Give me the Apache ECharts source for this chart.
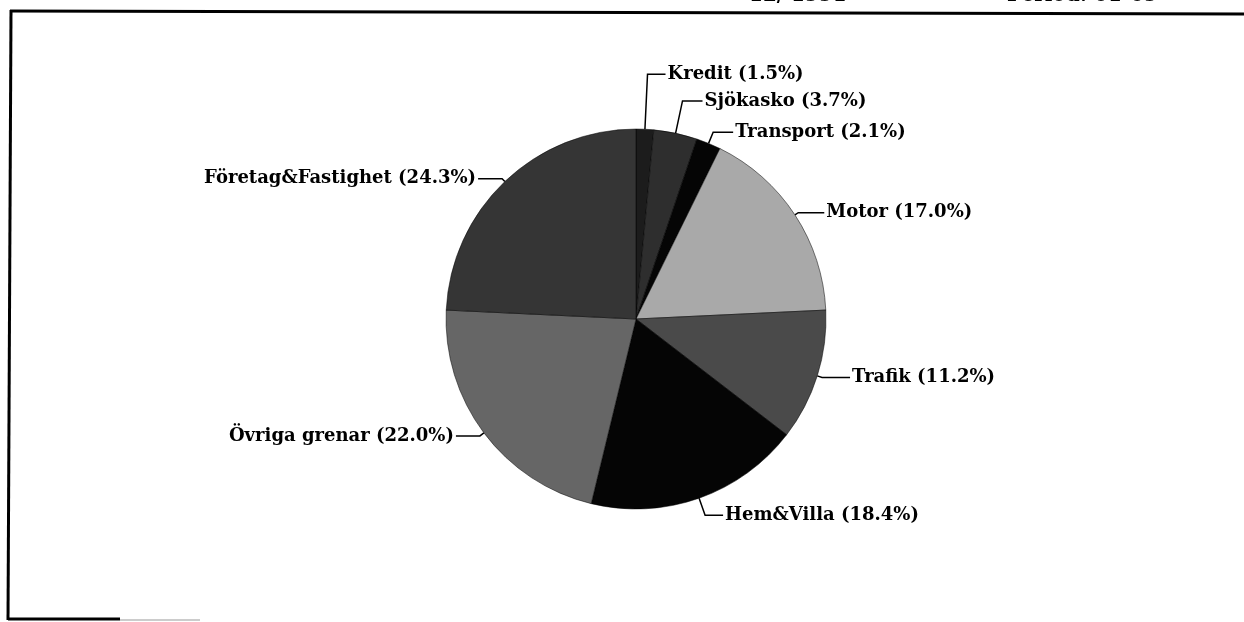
<!DOCTYPE html>
<html>
<head>
<meta charset="utf-8">
<script src="https://cdn.jsdelivr.net/npm/echarts@6/dist/echarts.min.js"></script>
<style>
  html, body { margin: 0; padding: 0; background: #fff; }
  #container { width: 1244px; height: 622px; }
</style>
</head>
<body>
<div id="container"></div>
<script type="text/javascript">
    // andelar per försäkringsgren, medurs från kl. 12
    var categories = ['Kredit', 'Sjökasko', 'Transport', 'Motor', 'Trafik', 'Hem&Villa', 'Övriga grenar', 'Företag&Fastighet'];
    var shares = [1.5, 3.7, 2.1, 17.0, 11.2, 18.4, 22.0, 24.3];

    var chartDom = document.getElementById('container');
    var myChart = echarts.init(chartDom);
    var option;

    const colors = ['#1c1c1c', '#2e2e2e', '#050505', '#a9a9a9', '#4a4a4a', '#050505', '#666666', '#353535'];
    // längd på etikettlinjer (radiellt, horisontellt)
    const lineLen = [[55, 18], [33, 20], [12, 20], [4, 26], [5, 28], [18, 18], [5, 24], [4, 24]];

    var pieData = categories.map(function (name, i) {
        return {
            name: name,
            value: shares[i],
            itemStyle: { color: colors[i] },
            labelLine: { length: lineLen[i][0], length2: lineLen[i][1] }
        };
    });

    option = {
        animation: false,
        backgroundColor: '#fff',
        graphic: [
            { type: 'line', shape: { x1: 10, y1: 11, x2: 1244, y2: 14 }, style: { stroke: '#000', lineWidth: 3 } },
            { type: 'line', shape: { x1: 11, y1: 10, x2: 8, y2: 620 }, style: { stroke: '#000', lineWidth: 3 } },
            { type: 'line', shape: { x1: 8, y1: 619, x2: 120, y2: 619 }, style: { stroke: '#000', lineWidth: 3 } },
            { type: 'line', shape: { x1: 120, y1: 620, x2: 200, y2: 620 }, style: { stroke: '#999', lineWidth: 1 } },
            { type: 'text', left: 749, top: -14, z: -1, style: { text: '12/ 1991', font: 'bold 20px "DejaVu Serif"', fill: '#000' } },
            { type: 'text', left: 1007, top: -14, z: -1, style: { text: 'Period: 01-09', font: 'bold 20px "DejaVu Serif"', fill: '#000' } }
        ],
        series: [
            {
                name: 'Premier',
                type: 'pie',
                center: [636, 319],
                radius: 190,
                startAngle: 90,
                clockwise: true,
                avoidLabelOverlap: false,
                itemStyle: { borderColor: '#000', borderWidth: 0.5 },
                label: {
                    show: true,
                    position: 'outside',
                    fontFamily: 'DejaVu Serif',
                    fontSize: 18,
                    fontWeight: 'bold',
                    color: '#000',
                    distanceToLabelLine: 2,
                    formatter: function (p) {
                        return p.name + ' (' + p.value.toFixed(1) + '%)';
                    }
                },
                labelLine: {
                    show: true,
                    lineStyle: { color: '#000', width: 1.5 }
                },
                emphasis: { disabled: true },
                data: pieData
            }
        ]
    };

    option && myChart.setOption(option);
</script>
</body>
</html>
